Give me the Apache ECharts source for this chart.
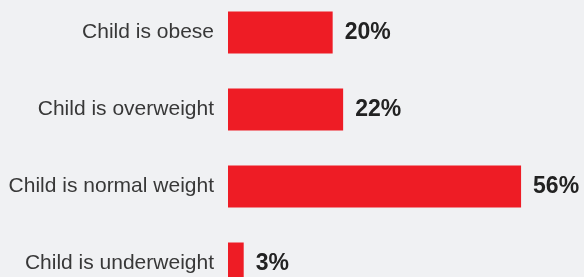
<!DOCTYPE html>
<html>
<head>
<meta charset="utf-8">
<script src="https://cdn.jsdelivr.net/npm/echarts@6/dist/echarts.min.js"></script>
<style>
html,body{margin:0;padding:0;background:#f0f1f3;}
#c{width:584px;height:277px;}
</style>
</head>
<body>
<div id="c"></div>
<script>
const categories = ["Child is obese", "Child is overweight", "Child is normal weight", "Child is underweight"];
const values = [20, 22, 56, 3];

const chart = echarts.init(document.getElementById('c'), null, {renderer: 'canvas'});
chart.setOption({
  backgroundColor: '#f0f1f3',
  animation: false,
  grid: {
    left: 228, right: 42, top: -6, bottom: -25,
    containLabel: false,
    outerBoundsMode: 'none'
  },
  xAxis: {
    type: 'value', min: 0, max: 60,
    show: false
  },
  yAxis: {
    type: 'category',
    data: categories,
    inverse: true,
    axisLine: {show: false},
    axisTick: {show: false},
    splitLine: {show: false},
    axisLabel: {
      margin: 14,
      fontSize: 21,
      fontFamily: 'Liberation Sans, Arial, sans-serif',
      color: '#383838'
    }
  },
  series: [{
    type: 'bar',
    data: values,
    barWidth: 42,
    itemStyle: {color: '#ee1c25'},
    label: {
      show: true,
      position: 'right',
      distance: 12,
      formatter: '{c}%',
      fontSize: 23,
      fontWeight: 'bold',
      fontFamily: 'Liberation Sans, Arial, sans-serif',
      color: '#222222'
    }
  }]
});
</script>
</body>
</html>
